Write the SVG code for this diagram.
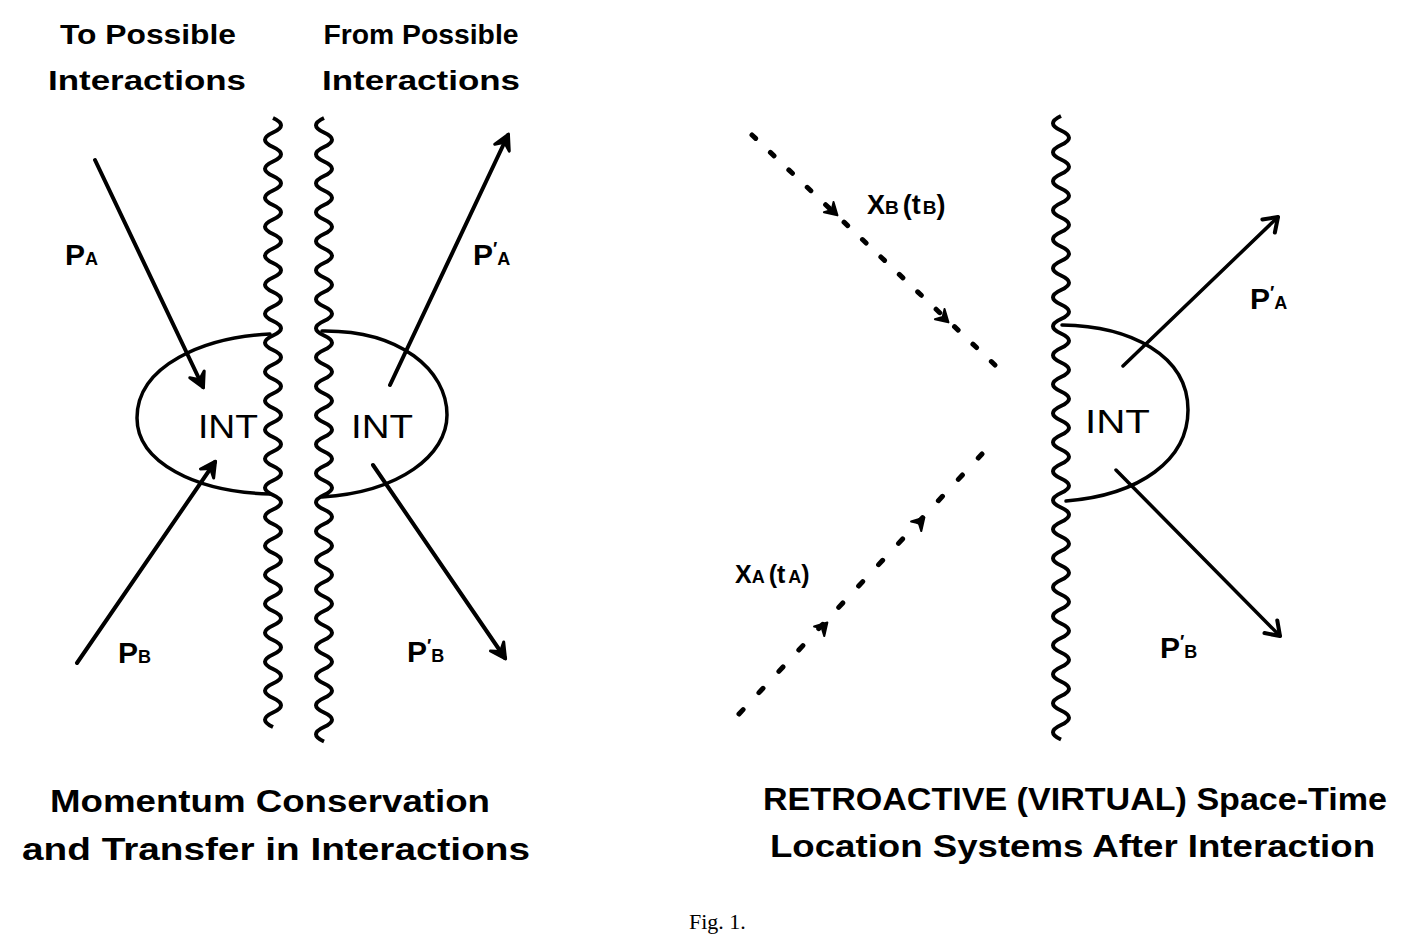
<svg xmlns="http://www.w3.org/2000/svg" xmlns:xlink="http://www.w3.org/1999/xlink" width="1401" height="945" viewBox="0 0 1401 945">
<style>
.hw{font-family:"Liberation Sans","DejaVu Sans",sans-serif;font-weight:700;fill:#000}
.cap{font-size:31px}
.top{font-size:27px}
.int{font-size:34px;font-weight:400}
.lbl{font-size:30px}
.sub{font-size:18px}
.wave{fill:none;stroke:#000;stroke-width:4;stroke-linejoin:round}
.oval{fill:none;stroke:#000;stroke-width:3.5;stroke-linecap:round}
.arr{fill:none;stroke:#000;stroke-width:4;stroke-linecap:round}
.arr2{fill:none;stroke:#000;stroke-width:3.5;stroke-linecap:round}
.dash1{fill:none;stroke:#000;stroke-width:5;stroke-linecap:round;stroke-dasharray:5 20.35}
.dash2{fill:none;stroke:#000;stroke-width:5;stroke-linecap:round;stroke-dasharray:6 23.2}
</style>
<defs>
<marker id="ahL" markerUnits="userSpaceOnUse" viewBox="-20 -15 30 30" refX="0" refY="0" markerWidth="30" markerHeight="30" orient="auto">
<path d="M1 0 L-14 -8 L-8 0 L-14 8 Z" fill="#000" stroke="#000" stroke-width="3" stroke-linejoin="round"/>
</marker>
<marker id="ahR" markerUnits="userSpaceOnUse" viewBox="-20 -15 30 30" refX="0" refY="0" markerWidth="30" markerHeight="30" orient="auto">
<path d="M-13 -9 L0 0 L-13 9" fill="none" stroke="#000" stroke-width="4" stroke-linejoin="round" stroke-linecap="round"/>
</marker>
<path id="dh" d="M2 0 L-10 -7 L-6 0 L-10 7 Z" fill="#000" stroke="#000" stroke-width="2" stroke-linejoin="round"/>
</defs>
<rect width="1401" height="945" fill="#fff"/>

<g id="top-labels">
<text class="hw top" x="148" y="44" text-anchor="middle" textLength="176" lengthAdjust="spacingAndGlyphs">To Possible</text>
<text class="hw top" x="147" y="90" text-anchor="middle" textLength="198" lengthAdjust="spacingAndGlyphs">Interactions</text>
<text class="hw top" x="421" y="44" text-anchor="middle" textLength="195" lengthAdjust="spacingAndGlyphs">From Possible</text>
<text class="hw top" x="421" y="90" text-anchor="middle" textLength="198" lengthAdjust="spacingAndGlyphs">Interactions</text>
</g>

<g id="boundaries">
<path class="wave" d="M273 118 q16 7.25 0 14.5 t0 14.5 t0 14.5 t0 14.5 t0 14.5 t0 14.5 t0 14.5 t0 14.5 t0 14.5 t0 14.5 t0 14.5 t0 14.5 t0 14.5 t0 14.5 t0 14.5 t0 14.5 t0 14.5 t0 14.5 t0 14.5 t0 14.5 t0 14.5 t0 14.5 t0 14.5 t0 14.5 t0 14.5 t0 14.5 t0 14.5 t0 14.5 t0 14.5 t0 14.5 t0 14.5 t0 14.5 t0 14.5 t0 14.5 t0 14.5 t0 14.5 t0 14.5 t0 14.5 t0 14.5 t0 14.5 t0 14.5 t0 14.5"/>
<path class="wave" d="M324 118 q-16 7.25 0 14.5 t0 14.5 t0 14.5 t0 14.5 t0 14.5 t0 14.5 t0 14.5 t0 14.5 t0 14.5 t0 14.5 t0 14.5 t0 14.5 t0 14.5 t0 14.5 t0 14.5 t0 14.5 t0 14.5 t0 14.5 t0 14.5 t0 14.5 t0 14.5 t0 14.5 t0 14.5 t0 14.5 t0 14.5 t0 14.5 t0 14.5 t0 14.5 t0 14.5 t0 14.5 t0 14.5 t0 14.5 t0 14.5 t0 14.5 t0 14.5 t0 14.5 t0 14.5 t0 14.5 t0 14.5 t0 14.5 t0 14.5 t0 14.5 t0 14.5"/>
<path class="wave" d="M1061 116 q-16 7.25 0 14.5 t0 14.5 t0 14.5 t0 14.5 t0 14.5 t0 14.5 t0 14.5 t0 14.5 t0 14.5 t0 14.5 t0 14.5 t0 14.5 t0 14.5 t0 14.5 t0 14.5 t0 14.5 t0 14.5 t0 14.5 t0 14.5 t0 14.5 t0 14.5 t0 14.5 t0 14.5 t0 14.5 t0 14.5 t0 14.5 t0 14.5 t0 14.5 t0 14.5 t0 14.5 t0 14.5 t0 14.5 t0 14.5 t0 14.5 t0 14.5 t0 14.5 t0 14.5 t0 14.5 t0 14.5 t0 14.5 t0 14.5 t0 14.5 t0 14.5"/>
</g>

<g id="int-left-a">
<path class="oval" d="M270 334 C205 337 137 365 137 418 C137 462 195 492 270 494"/>
<text class="hw int" x="198" y="438" textLength="60" lengthAdjust="spacingAndGlyphs">INT</text>
</g>
<g id="int-left-b">
<path class="oval" d="M322 331 C400 330 447 370 447 415 C447 455 400 492 322 497"/>
<text class="hw int" x="351" y="438" textLength="62" lengthAdjust="spacingAndGlyphs">INT</text>
</g>
<g id="int-right">
<path class="oval" d="M1062 325 C1130 326 1188 355 1188 410 C1188 460 1140 495 1066 501"/>
<text class="hw int" x="1085" y="433" textLength="65" lengthAdjust="spacingAndGlyphs">INT</text>
</g>

<g id="connectors">
<line class="arr" x1="95" y1="160" x2="203" y2="387" marker-end="url(#ahL)"/>
<line class="arr" x1="77" y1="663" x2="215" y2="462" marker-end="url(#ahL)"/>
<line class="arr" x1="390" y1="385" x2="508" y2="135" marker-end="url(#ahL)"/>
<line class="arr" x1="373" y1="465" x2="505" y2="658" marker-end="url(#ahL)"/>
<line class="arr2" x1="1123" y1="366" x2="1278" y2="217" marker-end="url(#ahR)"/>
<line class="arr2" x1="1116" y1="470" x2="1280" y2="636" marker-end="url(#ahR)"/>
<line class="dash1" x1="752" y1="135" x2="995" y2="365"/>
<use xlink:href="#dh" href="#dh" transform="translate(836 214) rotate(43.4)"/>
<use xlink:href="#dh" href="#dh" transform="translate(947 321) rotate(43.4)"/>
<line class="dash2" x1="739" y1="714" x2="982" y2="454"/>
<use xlink:href="#dh" href="#dh" transform="translate(826 624) rotate(-47)"/>
<use xlink:href="#dh" href="#dh" transform="translate(923 519) rotate(-47)"/>
</g>

<g id="labels">
<text class="hw lbl" x="65" y="265">P<tspan class="sub">A</tspan></text>
<text class="hw lbl" x="118" y="663">P<tspan class="sub">B</tspan></text>
<text class="hw lbl" x="473" y="265">P<tspan class="sub" dy="-10">′</tspan><tspan class="sub" dy="10">A</tspan></text>
<text class="hw lbl" x="407" y="662">P<tspan class="sub" dy="-10">′</tspan><tspan class="sub" dy="10">B</tspan></text>
<text class="hw lbl" x="1250" y="309">P<tspan class="sub" dy="-10">′</tspan><tspan class="sub" dy="10">A</tspan></text>
<text class="hw lbl" x="1160" y="658">P<tspan class="sub" dy="-10">′</tspan><tspan class="sub" dy="10">B</tspan></text>
<text class="hw" font-size="27" x="867" y="214">X<tspan font-size="19">B</tspan><tspan dx="4">(t</tspan><tspan font-size="19" dx="2">B</tspan>)</text>
<text class="hw" font-size="25" x="735" y="583">X<tspan font-size="18">A</tspan><tspan dx="4">(t</tspan><tspan font-size="18" dx="3">A</tspan>)</text>
</g>

<g id="captions">
<text class="hw cap" x="50" y="812" textLength="440" lengthAdjust="spacingAndGlyphs">Momentum Conservation</text>
<text class="hw cap" x="22" y="860" textLength="508" lengthAdjust="spacingAndGlyphs">and Transfer in Interactions</text>
<text class="hw cap" x="763" y="810" textLength="624" lengthAdjust="spacingAndGlyphs">RETROACTIVE (VIRTUAL) Space-Time</text>
<text class="hw cap" x="770" y="857" textLength="605" lengthAdjust="spacingAndGlyphs">Location Systems After Interaction</text>
<text x="689" y="929" font-family="Liberation Serif, serif" font-size="22">Fig. 1.</text>
</g>
</svg>
